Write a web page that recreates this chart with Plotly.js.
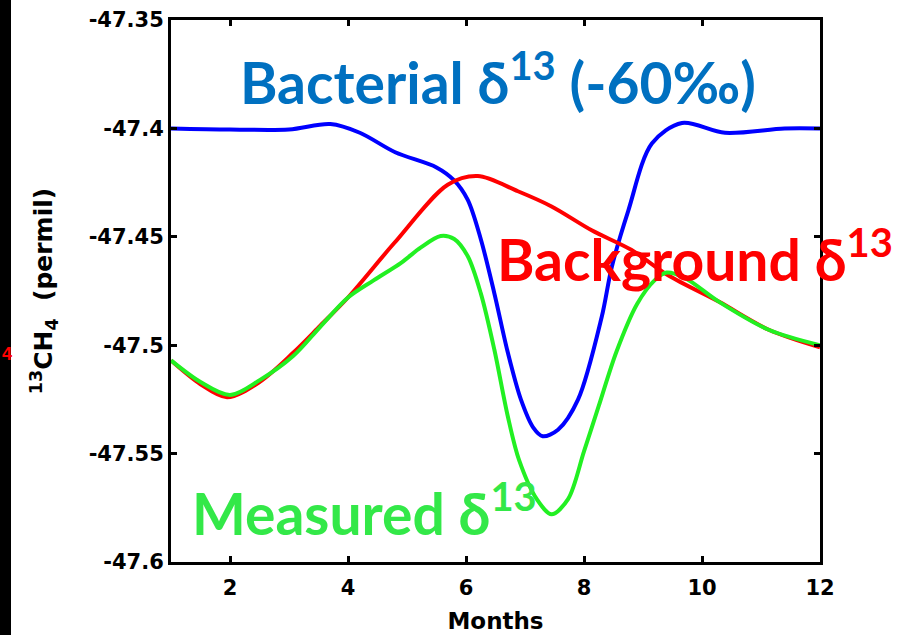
<!DOCTYPE html>
<html>
<head>
<meta charset="utf-8">
<script src="https://cdn.plot.ly/plotly-3.0.1.min.js"></script>
<style>html,body{margin:0;padding:0;background:#fff;}#chart{width:898px;height:635px;}</style>
</head>
<body>
<div id="chart"></div>
<script>
// Bacterial delta13 (blue)
const bacterialMonths = [1, 2, 3, 3.7, 4.2, 4.8, 5.5, 5.8, 6.03, 6.25, 6.48, 6.71, 6.93, 7.14, 7.3, 7.56, 7.9, 8.3, 8.47, 8.75, 9.15, 9.66, 10.39, 11.4, 12];
const bacterialValues = [-47.400, -47.4005, -47.4005, -47.398, -47.402, -47.411, -47.418, -47.424, -47.433, -47.451, -47.476, -47.5035, -47.525, -47.538, -47.542, -47.539, -47.525, -47.487, -47.464, -47.438, -47.407, -47.3975, -47.402, -47.400, -47.400];

// Background delta13 (red)
const backgroundMonths = [1, 1.5, 1.95, 2.5, 3.07, 3.53, 4.0, 4.78, 5.69, 6.2, 6.88, 7.45, 8.13, 8.8, 9.44, 10.29, 11.14, 12];
const backgroundValues = [-47.507, -47.518, -47.524, -47.517, -47.5035, -47.491, -47.478, -47.453, -47.426, -47.422, -47.429, -47.436, -47.447, -47.456, -47.468, -47.480, -47.493, -47.501];

// Measured delta13 (green)
const measuredMonths = [1, 1.5, 2.0, 2.51, 3.07, 3.53, 4.0, 4.44, 4.9, 5.23, 5.57, 5.8, 6.03, 6.25, 6.48, 6.71, 6.9, 7.2, 7.45, 7.73, 8.0, 8.25, 8.55, 8.9, 9.2, 9.4, 9.71, 10.29, 11.14, 12];
const measuredValues = [-47.507, -47.517, -47.523, -47.516, -47.505, -47.4915, -47.478, -47.470, -47.462, -47.455, -47.4496, -47.451, -47.459, -47.476, -47.502, -47.533, -47.553, -47.571, -47.578, -47.571, -47.549, -47.528, -47.503, -47.481, -47.470, -47.4665, -47.469, -47.480, -47.493, -47.500];

const xTickVals = [2, 4, 6, 8, 10, 12];
const yTickVals = [-47.6, -47.55, -47.5, -47.45, -47.4, -47.35];
const yTickText = ['-47.6', '-47.55', '-47.5', '-47.45', '-47.4', '-47.35'];

const labelBacterial = 'Bacterial δ<sup>13</sup> (-60‰)';
const labelBackground = 'Background δ<sup>13</sup>';
const labelMeasured = 'Measured δ<sup>13</sup>';
const labelEdge = '4';
const xTitle = 'Months';
const yTitle = '<sup>13</sup>CH<sub>4</sub>\u00a0\u00a0(permil)';

const lineTrace = (x, y, color) => ({
  x: x, y: y, type: 'scatter', mode: 'lines',
  line: {color: color, width: 4, shape: 'spline', smoothing: 0.9},
  hoverinfo: 'skip', showlegend: false
});

const data = [
  lineTrace(bacterialMonths, bacterialValues, '#0000ff'),
  lineTrace(backgroundMonths, backgroundValues, '#ff0000'),
  lineTrace(measuredMonths, measuredValues, '#22f022')
];

const tickFont = {family: 'DejaVu Sans, sans-serif', size: 21, color: '#000', weight: 'bold'};
const annFont = (c) => ({family: 'Lato, Open Sans, sans-serif', size: 57, color: c, weight: 'bold'});

const PW = 649, PH = 542;
const px = (p) => (p - 171) / PW;
const py = (p) => (562 - p) / PH;

const layout = {
  width: 898, height: 635,
  margin: {l: 171, r: 78, t: 20, b: 73},
  paper_bgcolor: '#fff', plot_bgcolor: '#fff',
  showlegend: false,
  xaxis: {
    range: [1, 12], tickvals: xTickVals, ticks: 'inside', ticklen: 6, tickwidth: 3,
    tickcolor: '#000', showline: true, linewidth: 3, linecolor: '#000', mirror: 'allticks',
    showgrid: false, zeroline: false, tickfont: tickFont, ticklabelstandoff: 5,
    title: {text: xTitle, font: {family: 'DejaVu Sans, sans-serif', size: 23, color: '#000', weight: 'bold'}, standoff: 14}
  },
  yaxis: {
    range: [-47.6, -47.35], tickvals: yTickVals, ticktext: yTickText, ticks: 'inside', ticklen: 6, tickwidth: 3,
    tickcolor: '#000', showline: true, linewidth: 3, linecolor: '#000', mirror: 'allticks',
    showgrid: false, zeroline: false, tickfont: tickFont,
    title: {text: yTitle, font: {family: 'DejaVu Sans, sans-serif', size: 25, color: '#000', weight: 'bold'}, standoff: 29}
  },
  shapes: [
    {type: 'rect', xref: 'paper', yref: 'paper', x0: px(0), x1: px(11), y0: py(640), y1: py(-5),
     fillcolor: '#000', line: {width: 0}, layer: 'below'}
  ],
  annotations: [
    {text: labelBacterial, xref: 'paper', yref: 'paper', x: px(238), y: py(78), xanchor: 'left', yanchor: 'middle',
     showarrow: false, font: annFont('#0070c0')},
    {text: labelBackground, xref: 'paper', yref: 'paper', x: px(495), y: py(255), xanchor: 'left', yanchor: 'middle',
     showarrow: false, font: annFont('#ff0000')},
    {text: labelMeasured, xref: 'paper', yref: 'paper', x: px(190), y: py(509), xanchor: 'left', yanchor: 'middle',
     showarrow: false, font: annFont('#33e848')},
    {text: labelEdge, xref: 'paper', yref: 'paper', x: px(0), y: py(354), xanchor: 'left', yanchor: 'middle',
     showarrow: false, font: {family: 'Liberation Sans, sans-serif', size: 18, color: '#ff0000', weight: 'bold'}}
  ]
};

Plotly.newPlot('chart', data, layout, {displayModeBar: false, staticPlot: true});
</script>
</body>
</html>
